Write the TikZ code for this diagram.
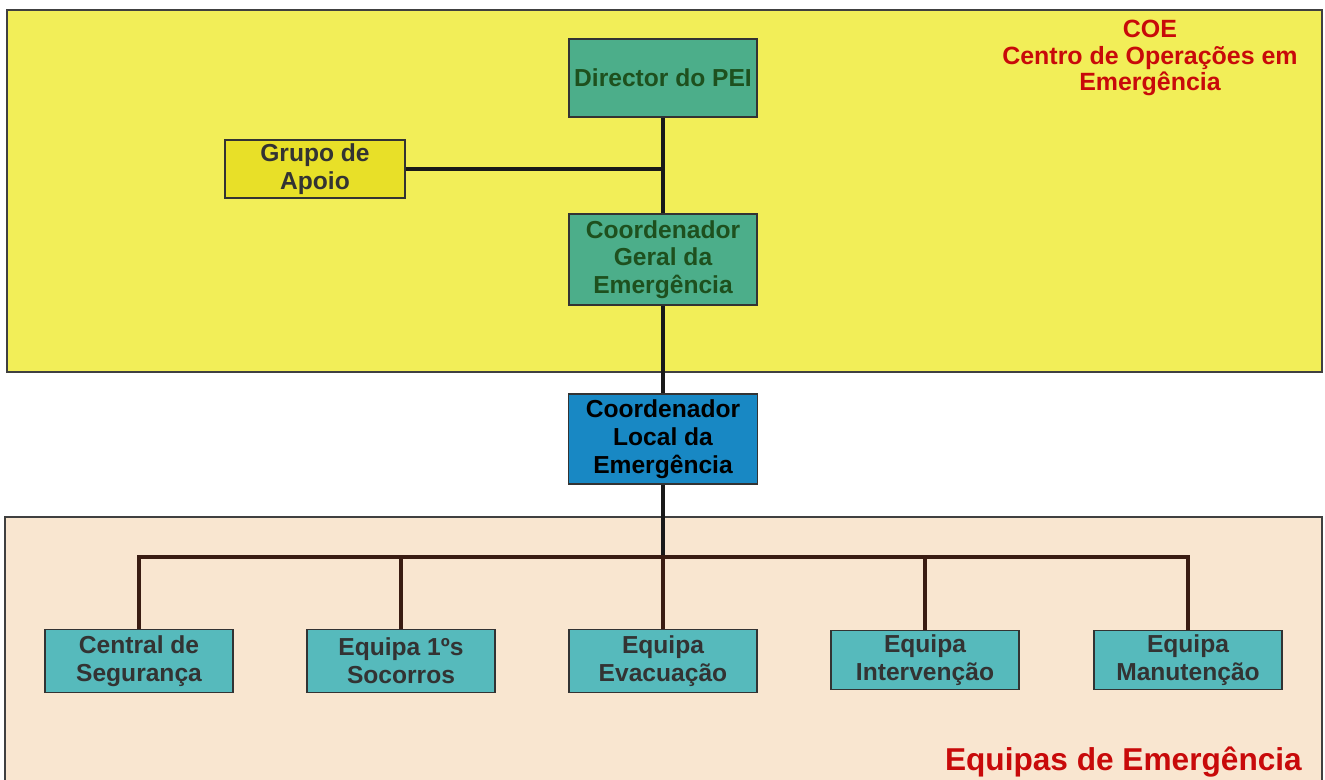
\documentclass[tikz,border=0pt]{standalone}
\usepackage{fontspec}
\setmainfont{Liberation Sans}
\definecolor{coeyellow}{RGB}{242,238,88}
\definecolor{peach}{RGB}{249,230,208}
\definecolor{seagreen}{RGB}{76,174,138}
\definecolor{darkgreen}{RGB}{30,80,30}
\definecolor{localblue}{RGB}{24,136,196}
\definecolor{teambox}{RGB}{86,186,188}
\definecolor{grupoyel}{RGB}{232,224,40}
\definecolor{redtxt}{RGB}{200,10,10}
\definecolor{brownline}{RGB}{58,28,18}
\begin{document}
\begin{tikzpicture}[x=0.02cm,y=-0.02cm,
  area/.style={draw=black!75,line width=0.9pt},
  boxbase/.style={draw=black!80,line width=0.9pt,align=center,inner sep=1pt,
     font=\fontsize{14}{15.8}\selectfont\bfseries},
  topbox/.style={boxbase,fill=seagreen,text=darkgreen,minimum width=3.77cm},
  localbox/.style={boxbase,fill=localblue,text=black,minimum width=3.78cm,minimum height=1.8cm},
  teambox/.style={boxbase,fill=teambox,text=black!80,minimum width=3.76cm,minimum height=1.26cm},
  grupobox/.style={boxbase,fill=grupoyel,text=black!80,minimum width=3.6cm,minimum height=1.16cm},
  link/.style={line width=2.4pt,draw=black!90},
  blink/.style={line width=2.4pt,draw=brownline},
  redlabel/.style={text=redtxt,align=center,font=\bfseries}]
\useasboundingbox (0,0) rectangle (1325,779);
\fill[white] (0,0) rectangle (1325,779);
% areas
\filldraw[area,fill=coeyellow] (7,10) rectangle (1322,372);
\filldraw[area,fill=peach] (5,517) rectangle (1322,785);
% nodes
\node[topbox,minimum height=1.56cm] (dir) at (663,78) {Director do PEI};
\node[topbox,minimum height=1.82cm] (geral) at (663,259.5) {Coordenador\\Geral da\\Emergência};
\node[grupobox] (grupo) at (315,169) {Grupo de\\Apoio};
\node[localbox] (local) at (663,439) {Coordenador\\Local da\\Emergência};
\node[teambox] (c1) at (139,661) {Central de\\Segurança};
\node[teambox] (c2) at (401,661) {Equipa 1ºs\\Socorros};
\node[teambox] (c3) at (663,661) {Equipa\\Evacuação};
\node[teambox,minimum height=1.18cm] (c4) at (925,660) {Equipa\\Intervenção};
\node[teambox,minimum height=1.18cm] (c5) at (1188,660) {Equipa\\Manutenção};
\coordinate (bus) at (663,557);
% labels
\node[redlabel,font=\fontsize{14.2}{15}\selectfont\bfseries] (coe) at (1150,58) {COE\\Centro de Operações em\\Emergência};
\node[redlabel,font=\fontsize{18}{21}\selectfont\bfseries,anchor=base east] (eq) at (1308,770) {Equipas de Emergência};
% connectors
\draw[link] (dir.south) -- (geral.north);
\draw[link] (grupo.east) -- (grupo.east -| dir.south);
\draw[link] (geral.south) -- (local.north);
\draw[link] (local.south) -- (bus);
\draw[blink] (c1.north) -- (c1.north |- bus) -- (c5.north |- bus) -- (c5.north);
\draw[blink] (c2.north) -- (c2.north |- bus);
\draw[blink] (c3.north) -- (c3.north |- bus);
\draw[blink] (c4.north) -- (c4.north |- bus);
\end{tikzpicture}
\end{document}
